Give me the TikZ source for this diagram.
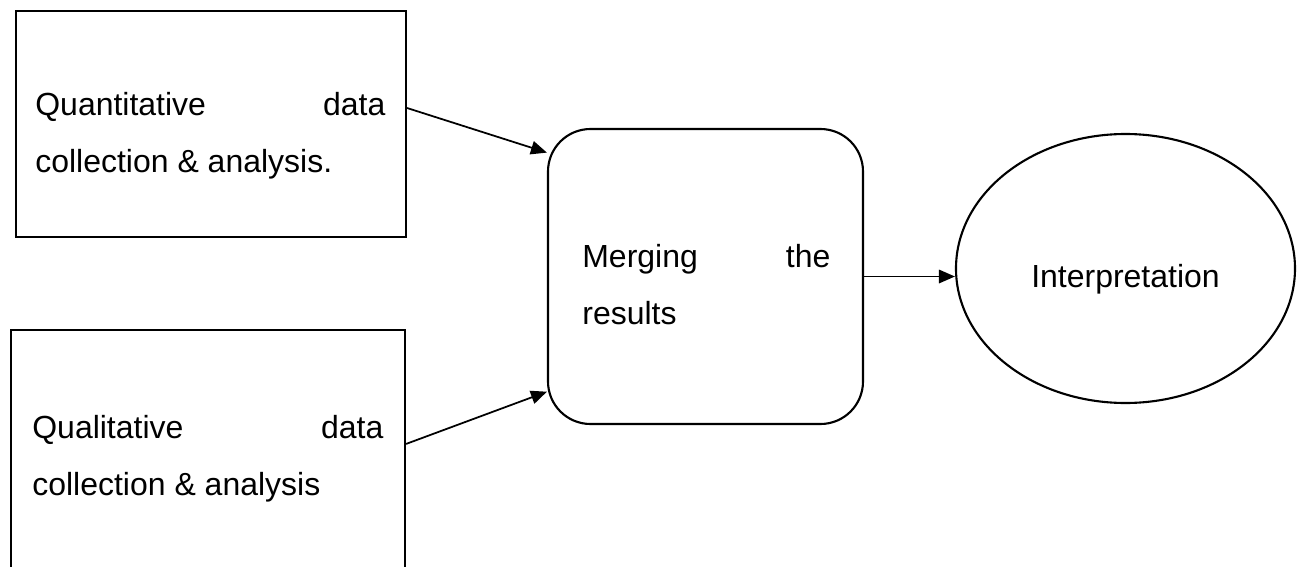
\documentclass[tikz,border=0pt]{standalone}
\usepackage{fontspec}
\setmainfont{Liberation Sans}
\usetikzlibrary{arrows.meta,shapes.geometric}
\hyphenpenalty=10000
\tolerance=10000

\begin{document}
\begin{tikzpicture}[
    box/.style={draw,line width=1.2pt,inner sep=0pt},
    txt/.style={anchor=north west,inner sep=0pt,align=justify,font=\fontsize{18.2}{32.4}\selectfont},
    arr/.style={line width=1pt,-{Triangle[length=3.2mm,width=2.7mm]}}]
        \useasboundingbox (0,0) rectangle (26.08,-11.34);
        \clip (0,0) rectangle (26.08,-11.34);
        % the two input boxes
        \node[box,minimum width=7.8cm,minimum height=4.52cm] (quant) at (4.22,-2.48) {};
        \node[txt,text width=7cm] (quanttext) at (0.70,-1.84) {Quantitative data collection \& analysis.};
        \node[box,minimum width=7.88cm,minimum height=5.8cm] (qual) at (4.16,-9.5) {};
        \node[txt,text width=7.02cm] (qualtext) at (0.64,-8.30) {Qualitative data collection \& analysis};
        % merging and interpretation
        \node[box,rounded corners=0.85cm,minimum width=6.3cm,minimum height=5.9cm] (merge) at (14.11,-5.53) {};
        \node[txt,text width=4.96cm] (mergetext) at (11.64,-4.88) {Merging the results};
        \node[box,ellipse,minimum width=6.78cm,minimum height=5.38cm,text height=0.88cm,text depth=0.14cm,
              font=\fontsize{18.2}{32.4}\selectfont] (interp) at (22.51,-5.37) {Interpretation};
        \draw[arr] ([yshift=0.32cm]quant.east) -- (merge.142);
        \draw[arr] ([yshift=-2.3cm]qual.north east) -- (merge.216);
        \draw[arr] (merge.east) -- (merge.east -| interp.west);
      \end{tikzpicture}
\end{document}
